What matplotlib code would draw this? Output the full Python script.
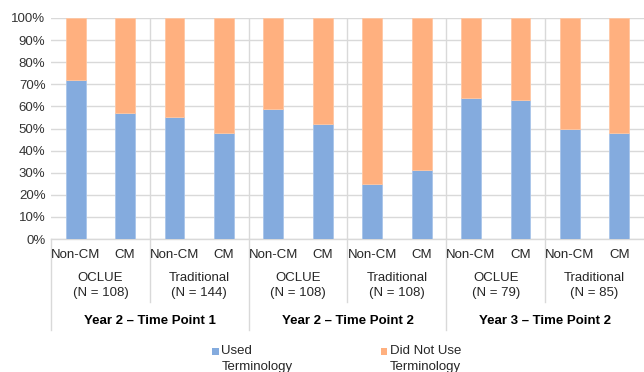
import matplotlib.pyplot as plt
from matplotlib.patches import Rectangle

plt.rcParams['font.family'] = ['Liberation Sans', 'DejaVu Sans']

# values (percent)
used = [72, 57, 55, 48, 59, 52, 25, 31, 64, 63, 50, 48]
not_used = [100 - u for u in used]
bar_labels = ['Non-CM', 'CM'] * 6
groups = ['OCLUE', 'Traditional', 'OCLUE', 'Traditional', 'OCLUE', 'Traditional']
group_n = ['(N = 108)', '(N = 144)', '(N = 108)', '(N = 108)', '(N = 79)', '(N = 85)']
periods = ['Year 2 \u2013 Time Point 1', 'Year 2 \u2013 Time Point 2',
           'Year 3 \u2013 Time Point 2']
legend_labels = [('Used', 'Terminology'), ('Did Not Use', 'Terminology')]

blue = '#84ABDE'
orange = '#FFB07F'
grid = '#D9D9D9'
fs = 9.5

fig = plt.figure(figsize=(6.44, 3.72), dpi=100)
ax = fig.add_axes([51 / 644, 1 - 239 / 372, 593 / 644, 221 / 372])

x = list(range(len(used)))
ax.bar(x, used, width=0.4, color=blue, edgecolor='#A9C5EA', linewidth=0.6, zorder=3)
ax.bar(x, not_used, width=0.4, bottom=used, color=orange, edgecolor='#FFC7A3',
       linewidth=0.6, zorder=3)

ax.set_xlim(-0.5, 11.5)
ax.set_ylim(0, 100)
ax.set_yticks(range(0, 101, 10))
ax.set_yticklabels([f'{v}%' for v in range(0, 101, 10)], fontsize=fs, color='#333333')
ax.set_xticks([])
ax.tick_params(axis='y', length=0, pad=4)
ax.yaxis.grid(True, color=grid, linewidth=1, zorder=0)
for s in ['left', 'right', 'top']:
    ax.spines[s].set_visible(False)
ax.spines['bottom'].set_color(grid)
ax.spines['bottom'].set_linewidth(1)

tr = ax.get_xaxis_transform()
# vertical separators between groups
for i in range(1, 6):
    xb = 2 * i - 0.5
    ax.plot([xb, xb], [0, 1], color=grid, lw=1, zorder=1, transform=tr)
    low = -0.412 if i % 2 == 0 else -0.285
    ax.plot([xb, xb], [0, low], color=grid, lw=1, clip_on=False, transform=tr)
ax.plot([-0.5, -0.5], [0, -0.412], color=grid, lw=1, clip_on=False, transform=tr)

for xi, lab in zip(x, bar_labels):
    ax.text(xi, -0.072, lab, ha='center', va='center', fontsize=fs,
            color='#262626', transform=tr)
for gi in range(len(groups)):
    ax.text(2 * gi + 0.5, -0.176, groups[gi], ha='center', va='center', fontsize=fs,
            color='#262626', transform=tr)
    ax.text(2 * gi + 0.5, -0.244, group_n[gi], ha='center', va='center', fontsize=fs,
            color='#262626', transform=tr)
for pi, lab in enumerate(periods):
    ax.text(4 * pi + 1.5, -0.371, lab, ha='center', va='center', fontsize=fs,
            fontweight='bold', color='#000000', transform=tr)

# legend, drawn by hand to match the wrapped labels
W, H = 644, 372
for (l1, l2), mx, col in zip(legend_labels, [212, 380.5], [blue, orange]):
    fig.add_artist(Rectangle((mx / W, 1 - 354.5 / H), 6.5 / W, 7 / H,
                             transform=fig.transFigure, facecolor=col, edgecolor='none'))
    fig.text((mx + 9.5) / W, 1 - 351 / H, l1, ha='left', va='center', fontsize=fs,
             color='#262626')
    fig.text((mx + 9.5) / W, 1 - 367 / H, l2, ha='left', va='center', fontsize=fs,
             color='#262626')

fig.savefig('out.png', dpi=100)
